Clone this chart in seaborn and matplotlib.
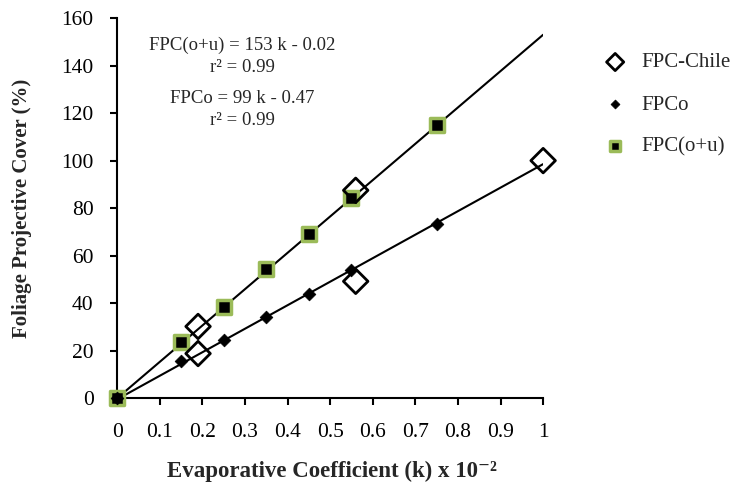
import numpy as np
import pandas as pd
import matplotlib
matplotlib.use("Agg")
import matplotlib.pyplot as plt
import seaborn as sns

# -------------------------------
# Data
# -------------------------------
k_fpc_ou = [0, 0.15, 0.25, 0.35, 0.45, 0.55, 0.75]
fpc_ou = [0, 23.5, 38.3, 54.2, 69.3, 84.2, 115.0]

k_fpco = [0, 0.15, 0.25, 0.35, 0.45, 0.55, 0.75]
fpco = [0, 15.5, 24.3, 34.0, 44.0, 53.8, 73.2]

k_chile = [0.19, 0.19, 0.56, 0.56, 1.0]
fpc_chile = [18.8, 30.2, 49.2, 87.5, 100.0]

# regression lines (slope, intercept) as printed on the chart
fit_slopes = [153, 99]
fit_intercepts = [-0.02, -0.47]
fit_k = [0, 1]

x_ticks = [0, 0.1, 0.2, 0.3, 0.4, 0.5, 0.6, 0.7, 0.8, 0.9, 1]
x_tick_labels = ["0", "0.1", "0.2", "0.3", "0.4", "0.5", "0.6", "0.7", "0.8", "0.9", "1"]
y_ticks = [0, 20, 40, 60, 80, 100, 120, 140, 160]

# -------------------------------
# Style
# -------------------------------
sns.set_style("ticks")
plt.rcParams["font.family"] = ["Liberation Serif", "DejaVu Serif"]

fig = plt.figure(figsize=(7.32, 4.88), dpi=100)
ax = fig.add_axes([0.16, 0.184, 0.582, 0.779])

# -------------------------------
# Fit lines
# -------------------------------
for m, b in zip(fit_slopes, fit_intercepts):
    line_df = pd.DataFrame({"k": fit_k, "y": [m * k + b for k in fit_k]})
    sns.lineplot(data=line_df, x="k", y="y", color="black", linewidth=1.5,
                 ax=ax, legend=False, zorder=2)

# -------------------------------
# Points
# -------------------------------
sns.scatterplot(x=k_fpc_ou, y=fpc_ou, marker="s", s=10 ** 2, color="black",
                edgecolor="#9BBB59", linewidth=2.5, label="FPC(o+u)",
                ax=ax, zorder=3, clip_on=False)
sns.scatterplot(x=k_fpco, y=fpco, marker="D", s=6.5 ** 2, color="black",
                edgecolor="black", linewidth=0.5, label="FPCo",
                ax=ax, zorder=4, clip_on=False)
sns.scatterplot(x=k_chile, y=fpc_chile, marker="D", s=12.5 ** 2, facecolor="none",
                edgecolor="black", linewidth=2.0, label="FPC-Chile",
                ax=ax, zorder=5, clip_on=False)

# -------------------------------
# Axes
# -------------------------------
ax.set_xlim(0, 1)
ax.set_ylim(0, 160)
ax.set_xticks(x_ticks)
ax.set_xticklabels(x_tick_labels)
ax.set_yticks(y_ticks)
ax.tick_params(axis="both", direction="out", length=5, width=1.5,
               labelsize=15.5, colors="black")
ax.tick_params(axis="x", pad=13)
ax.tick_params(axis="y", pad=12)
sns.despine(ax=ax)
for side in ["left", "bottom"]:
    ax.spines[side].set_linewidth(1.5)
    ax.spines[side].set_color("black")

ax.set_xlabel("Evaporative Coefficient (k) x 10⁻²", fontsize=16.5, fontweight="bold")
ax.set_ylabel("Foliage Projective Cover (%)", fontsize=15, fontweight="bold")
ax.xaxis.set_label_coords(0.505, -0.165)
ax.yaxis.set_label_coords(-0.2, 0.5)

# -------------------------------
# Equations
# -------------------------------
eq_size = 13.5
ax.text(0.293, 148.5, "FPC(o+u) = 153 k - 0.02", ha="center", va="center", fontsize=eq_size)
ax.text(0.293, 139.3, "r² = 0.99", ha="center", va="center", fontsize=eq_size)
ax.text(0.293, 126.3, "FPCo = 99 k - 0.47", ha="center", va="center", fontsize=eq_size)
ax.text(0.293, 117.0, "r² = 0.99", ha="center", va="center", fontsize=eq_size)

# -------------------------------
# Legend
# -------------------------------
handles, labels = ax.get_legend_handles_labels()
order = [labels.index(n) for n in ["FPC-Chile", "FPCo", "FPC(o+u)"]]
ax.legend([handles[i] for i in order], [labels[i] for i in order],
          loc="upper left", bbox_to_anchor=(0.792, 0.93), bbox_transform=fig.transFigure,
          frameon=False, fontsize=15, labelspacing=1.08, handlelength=1.6,
          handletextpad=0.45, markerscale=0.7)

fig.savefig("out.png", dpi=100)
